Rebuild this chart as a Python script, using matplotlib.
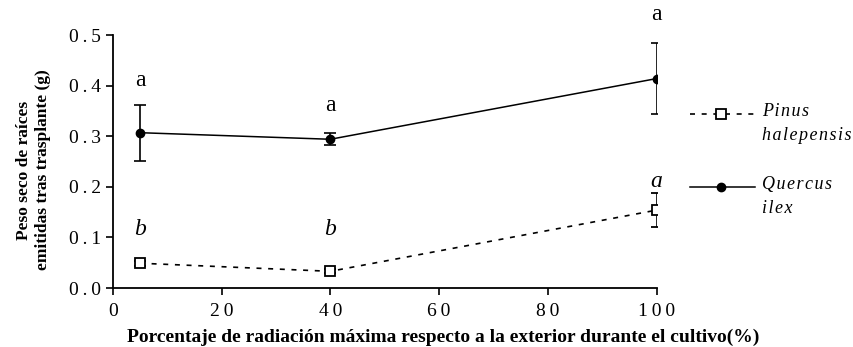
import numpy as np
import matplotlib.pyplot as plt
from matplotlib.lines import Line2D

# data
radiacion = [5, 40, 100]
quercus = [0.307, 0.294, 0.414]
quercus_err = [0.055, 0.012, 0.07]
pinus = [0.049, 0.033, 0.154]
pinus_err = [0.005, 0.004, 0.034]
letras_quercus = ['a', 'a', 'a']
letras_pinus = ['b', 'b', 'a']
letras_q_y = [0.41, 0.36, 0.54]
letras_p_y = [0.115, 0.115, 0.21]
nombres = ['Pinus\nhalepensis', 'Quercus\nilex']

plt.rcParams['font.family'] = ['Liberation Serif', 'DejaVu Serif']


def espaciar(txt, sep='\u2009'):
    # letter spacing like the original picture
    return '\n'.join(sep.join(linea) for linea in txt.split('\n'))


fig = plt.figure(figsize=(8.54, 3.47), dpi=100)
ax = fig.add_axes([0.132, 0.170, 0.637, 0.729])

estilo_pinus = dict(color='black', ls=(0, (3, 4)), lw=1.2, marker='s', ms=7,
                    mfc='white', mec='black', mew=1.3)
estilo_quercus = dict(color='black', ls='-', lw=1.1, marker='o', ms=6)

# Pinus halepensis
ax.errorbar(radiacion, pinus, yerr=pinus_err, capsize=4.5, elinewidth=1.2,
            capthick=1.2, **estilo_pinus)
# Quercus ilex
ax.errorbar(radiacion, quercus, yerr=quercus_err, capsize=4.5, elinewidth=1.2,
            capthick=1.2, **estilo_quercus)

for x, y, t in zip(radiacion, letras_q_y, letras_quercus):
    ax.text(x, y, t, ha='center', va='center', fontsize=17, clip_on=False)
for x, y, t in zip(radiacion, letras_p_y, letras_pinus):
    ax.text(x, y, t, ha='center', va='center', fontsize=17,
            style='italic', clip_on=False)

ax.set_xlim(0, 100)
ax.set_ylim(0, 0.5)
xt = [0, 20, 40, 60, 80, 100]
yt = [0.0, 0.1, 0.2, 0.3, 0.4, 0.5]
ax.set_xticks(xt)
ax.set_xticklabels([espaciar(str(v)) for v in xt])
ax.set_yticks(yt)
ax.set_yticklabels([espaciar('%.1f' % v) for v in yt])
ax.tick_params(direction='out', length=5, width=1.2, labelsize=14)
ax.tick_params(axis='x', pad=6)
for s in ['top', 'right']:
    ax.spines[s].set_visible(False)
for s in ['left', 'bottom']:
    ax.spines[s].set_linewidth(1.3)

fig.text(0.519, 0.029,
         'Porcentaje de radiación máxima respecto a la exterior durante el cultivo(%)',
         ha='center', va='center', fontsize=14, fontweight='bold')
fig.text(0.039, 0.51, 'Peso seco de raíces\nemitidas tras trasplante (g)',
         ha='center', va='center', rotation=90, fontsize=12.5,
         fontweight='bold', multialignment='center')

# legend drawn by hand: handle level with the first line of each name
for i, (nombre, estilo) in enumerate(zip(nombres, [estilo_pinus, estilo_quercus])):
    yl = 0.688 - i * 0.289
    ax.add_line(Line2D([1.061, 1.119, 1.180], [yl, yl, yl], transform=ax.transAxes,
                       clip_on=False, markevery=[1], **estilo))
    ax.text(1.193, yl + 0.045, espaciar(nombre, '\u200a'), transform=ax.transAxes,
            ha='left', va='top', fontsize=13, style='italic', linespacing=1.55)

fig.savefig('out.png', dpi=100)
